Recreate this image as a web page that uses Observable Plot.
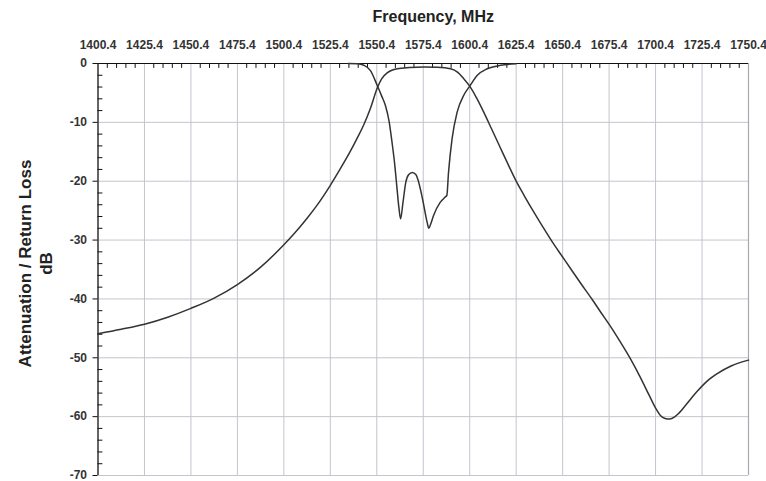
<!DOCTYPE html>
<html>
<head>
<meta charset="utf-8">
<script src="https://cdn.jsdelivr.net/npm/d3@7"></script>
<script src="https://cdn.jsdelivr.net/npm/@observablehq/plot@0.6"></script>
<style>
  html, body { margin: 0; padding: 0; background: #fff; }
  #chart svg { display: block; }
</style>
</head>
<body>
<div id="chart"></div>
<script>
// Tick labels
const xTicks = [1400.4, 1425.4, 1450.4, 1475.4, 1500.4, 1525.4, 1550.4, 1575.4, 1600.4, 1625.4, 1650.4, 1675.4, 1700.4, 1725.4, 1750.4];
const yTicks = [0, -10, -20, -30, -40, -50, -60, -70];

// Attenuation series
const attFreq = [1400.4, 1412.9, 1425.4, 1437.9, 1450.4, 1462.9, 1475.4, 1487.9, 1500.4, 1506.0, 1512.9, 1518.0, 1525.4, 1530.0, 1536.2, 1540.0, 1543.4, 1547.0, 1550.6, 1553.0, 1556.0, 1558.5, 1561.4, 1568.0, 1575.7, 1583.0, 1590.1, 1594.0, 1597.2, 1600.4, 1604.0, 1608.0, 1612.0, 1617.0, 1621.0, 1625.4, 1630.0, 1635.0, 1640.0, 1645.0, 1650.0, 1655.0, 1660.0, 1666.3, 1671.0, 1675.8, 1681.0, 1686.9, 1692.0, 1697.0, 1700.5, 1703.0, 1705.5, 1708.0, 1710.5, 1713.0, 1717.0, 1722.8, 1728.0, 1733.6, 1741.0, 1750.4];
const attDb   = [-45.9, -45.15, -44.3, -43.1, -41.6, -39.85, -37.55, -34.6, -30.8, -28.9, -26.3, -24.2, -20.7, -18.3, -14.9, -12.6, -10.4, -7.6, -4.2, -2.6, -1.6, -1.15, -0.9, -0.7, -0.6, -0.65, -0.9, -1.5, -2.6, -3.85, -5.8, -8.3, -11.0, -14.4, -17.1, -20.0, -22.6, -25.3, -27.9, -30.4, -32.7, -35.0, -37.3, -40.1, -42.3, -44.5, -47.1, -50.2, -53.2, -56.4, -58.6, -59.8, -60.3, -60.4, -60.1, -59.4, -57.9, -55.7, -54.0, -52.7, -51.4, -50.4];

// Return loss series
const rlFreq = [1535.0, 1540.0, 1543.4, 1547.0, 1550.6, 1553.0, 1555.0, 1557.0, 1558.6, 1560.0, 1561.3, 1562.3, 1563.2, 1564.5, 1566.0, 1567.5, 1569.5, 1571.5, 1572.4, 1575.0, 1577.5, 1578.4, 1579.5, 1581.0, 1584.5, 1587.2, 1588.1, 1589.0, 1590.9, 1593.6, 1597.2, 1600.4, 1604.5, 1609.8, 1617.0, 1625.4];
const rlDb   = [0, -0.05, -0.3, -1.2, -3.7, -5.5, -7.1, -9.8, -13.4, -17.0, -21.3, -24.5, -26.4, -23.6, -20.2, -18.9, -18.5, -18.9, -19.6, -23.0, -27.0, -28.0, -27.2, -25.8, -23.6, -22.7, -22.4, -18.5, -12.8, -8.3, -5.4, -3.85, -2.0, -0.9, -0.3, -0.05];

const att = attFreq.map((f, i) => ({f, db: attDb[i]}));
const rl = rlFreq.map((f, i) => ({f, db: rlDb[i]}));

const xMinor = d3.range(1405.4, 1750.4, 5).filter(v => !xTicks.some(t => Math.abs(t - v) < 0.01));
const yMinor = d3.range(-2, -70, -2).filter(v => v % 10 !== 0);

const tickShape = {draw(context, l) { context.moveTo(0, 0); context.lineTo(0, -l); }};
const font = "'Liberation Sans', Arial, Helvetica, sans-serif";

const chart = Plot.plot({
  width: 766,
  height: 481,
  marginLeft: 97.5,
  marginRight: 18,
  marginTop: 63,
  marginBottom: 6,
  style: {fontFamily: font, background: "#fff"},
  x: {domain: [1400.4, 1750.4]},
  y: {domain: [-70, 0]},
  marks: [
    Plot.gridX(xTicks, {stroke: "#c4c4ce", strokeOpacity: 1, strokeWidth: 1}),
    Plot.gridY(yTicks, {stroke: "#c4c4ce", strokeOpacity: 1, strokeWidth: 1}),
    Plot.ruleX([1750.4], {stroke: "#a8a8b0", strokeWidth: 1.2}),
    Plot.ruleY([0], {stroke: "#111", strokeWidth: 1.2}),
    Plot.ruleX([1400.4], {stroke: "#111", strokeWidth: 1.2}),
    Plot.vector(xMinor, {x: d => d, frameAnchor: "top", length: 4, rotate: 180, anchor: "start", shape: tickShape, stroke: "#111", strokeWidth: 1}),
    Plot.vector(yMinor, {y: d => d, frameAnchor: "left", length: 4, rotate: 90, anchor: "start", shape: tickShape, stroke: "#111", strokeWidth: 1}),
    Plot.axisX({anchor: "top", ticks: xTicks, tickSize: 0, tickPadding: 15, tickFormat: d => d.toFixed(1), label: null, fontSize: 12, fontWeight: "bold", fill: "#333"}),
    Plot.axisY({anchor: "left", ticks: yTicks, tickSize: 5, tickPadding: 6, tickFormat: d => String(d), label: null, fontSize: 12, fontWeight: "bold", fill: "#333", stroke: "#111"}),
    Plot.line(att, {x: "f", y: "db", stroke: "#333", strokeWidth: 1.5, curve: "monotone-x"}),
    Plot.line(rl, {x: "f", y: "db", stroke: "#333", strokeWidth: 1.5, curve: "monotone-x"}),
    Plot.text(["Frequency, MHz"], {frameAnchor: "top", dx: 10, dy: -47, fontSize: 16, fontWeight: "bold", fill: "#222", lineAnchor: "middle"}),
    Plot.text(["Attenuation / Return Loss\ndB"], {frameAnchor: "left", dx: -63, dy: -6, rotate: -90, fontSize: 17, fontWeight: "bold", fill: "#222", lineHeight: 1.25, textAnchor: "middle", lineAnchor: "middle"})
  ]
});
document.getElementById("chart").appendChild(chart);
</script>
</body>
</html>
